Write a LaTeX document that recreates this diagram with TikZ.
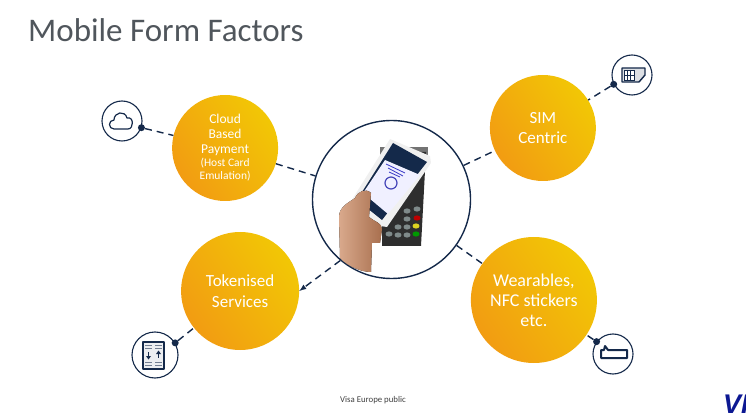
\documentclass[tikz,border=0pt]{standalone}
\usepackage{fontspec}
\setmainfont{Carlito}
\newfontfamily\logofont{Liberation Sans}
\usetikzlibrary{positioning}
\usetikzlibrary{arrows}
\definecolor{navy}{HTML}{14294A}
\definecolor{ambera}{HTML}{F29C12}
\definecolor{amberb}{HTML}{F2C705}
\definecolor{titlegrey}{HTML}{50565C}
\definecolor{skina}{HTML}{D9A98C}
\definecolor{skinb}{HTML}{A86F4E}
\definecolor{keygrey}{HTML}{7F8A8A}
\tikzset{
    blob/.style={circle,inner sep=0pt,text=white,align=center,left color=ambera,right color=amberb,shading angle=125},
    iconring/.style={circle,draw=navy,line width=1.1pt,minimum size=#1,inner sep=0pt,fill=white},
    joint/.style={circle,fill=navy,minimum size=7pt,inner sep=0pt},
    link/.style={draw=navy,line width=1.4pt,dash pattern=on 7pt off 5pt},
    glyph/.style={draw=navy,line width=1.1pt,line join=round}
}

\begin{document}
\begin{tikzpicture}[x=1pt,y=-1pt]
    \useasboundingbox (0,0) rectangle (746,419);
    \node (title) [anchor=base west,font=\fontsize{33}{33}\selectfont,text=titlegrey,inner sep=0pt] at (28,42) {Mobile Form Factors};

    % hub and the four discs
    \node (hub) [circle,draw=navy,line width=1.4pt,minimum size=158pt,inner sep=0pt] at (391.5,199.5) {};
    \node (sim)   [blob,minimum size=106pt,font=\fontsize{17}{20}\selectfont,right=18.5pt of hub,yshift=71.5pt] {SIM\\Centric};
    \node (wear)  [blob,minimum size=126pt,font=\fontsize{18}{20}\selectfont,right=-0.5pt of hub,yshift=-100.5pt] {Wearables,\\NFC stickers\\etc.};
    \node (cloud) [blob,minimum size=106pt,font=\fontsize{13.5}{15}\selectfont,left=33.5pt of hub,yshift=51.5pt] {Cloud\\Based\\Payment\\[-2pt]{\fontsize{11.5}{13}\selectfont (Host Card}\\[-2pt]{\fontsize{11.5}{13}\selectfont Emulation)}};
    \node (token) [blob,minimum size=118pt,font=\fontsize{17}{21}\selectfont,left=12.5pt of hub,yshift=-91.5pt] {Tokenised\\Services};

    % icons
    \node (cloudicon) [iconring=40pt] at (122,121) {};
    \node (simicon)   [iconring=40pt] at (632,75) {};
    \node (tokenicon) [iconring=46pt] at (155,355) {};
    \node (wearicon)  [iconring=40pt] at (613,354) {};
    \node (clouddot) [joint] at (cloudicon.-19) {};
    \node (simdot)   [joint] at (simicon.207) {};
    \node (tokendot) [joint] at (tokenicon.31) {};
    \node (weardot)  [joint] at (wearicon.143) {};

    % dashed links
    \draw[link] (clouddot) -- (cloud);
    \draw[link] (simdot) -- (sim);
    \draw[link] (tokendot) -- (token);
    \draw[link] (weardot) -- (wear);
    \draw[link] (cloud) -- (hub);
    \draw[link] (hub) -- (sim);
    \draw[link] (hub) -- (wear);
    \draw[link,-latex] (hub.230) -- (token.east);

    % cloud glyph
    \draw[glyph,line width=1.2pt] (114,129) .. controls (108,129) and (108,120) .. (114,120)
        .. controls (114,112) and (125,110) .. (127,118) .. controls (134,116) and (134,129) .. (128,129) -- cycle;

    % sim glyph
    \draw[glyph,fill=navy!15,line width=1.4pt] (622,68) -- (645,68) -- (645,75) -- (639,82) -- (622,82) -- cycle;
    \draw[navy,fill=white,line width=0.8pt] (624,70) rectangle (634,80);
    \draw[navy,line width=0.7pt] (627.5,70) -- (627.5,80) (630.5,70) -- (630.5,80) (624,75) -- (634,75);

    % card glyph
    \draw[glyph,fill=navy!8] (143,342) rectangle (164,369);
    \foreach \colx in {148.5,158.5} {
        \draw[navy!60,line width=0.8pt] (\colx-3.5,345) -- (\colx+3.5,345) (\colx-3.5,348) -- (\colx+3.5,348);
        \draw[navy!60,line width=0.8pt] (\colx-3.5,362) -- (\colx+3.5,362) (\colx-3.5,365) -- (\colx+3.5,365);
        \draw[navy,line width=1.2pt] (\colx,352) -- (\colx,358);
    }
    \fill[navy] (146,356) -- (151,356) -- (148.5,359.5) -- cycle;
    \fill[navy] (156,354) -- (161,354) -- (158.5,350.5) -- cycle;

    % band glyph
    \draw[glyph,line width=2pt,fill=white] (601,350) -- (604,350) -- (605,346) -- (608,350) -- (627,350) -- (627,358) -- (601,358) -- cycle;

    % terminal
    \fill[black!55] (380,147) -- (428,147) -- (428,160) -- (380,160) -- cycle;
    \fill[black!82] (382,152) -- (426,152) -- (421,246) -- (382,246) -- cycle;
    \foreach \kx/\ky in {407/211,417/209,407/219,398/227,407/227,389/234,398/235,407/235} {
        \fill[keygrey] (\kx,\ky) ellipse (3.5pt and 2.6pt);
    }
    \fill[red!75!black] (417,218) ellipse (3.5pt and 2.6pt);
    \fill[yellow!85!black] (416,226) ellipse (3.5pt and 2.6pt);
    \fill[green!60!black] (416,234) ellipse (3.5pt and 2.6pt);

    % phone
    \fill[black!6] (390,139) -- (430,156) -- (431,163) -- (387,227) -- (380,226) -- (352,205) -- (353,198) -- cycle;
    \fill[navy] (393,143) -- (427,162) -- (382,220) -- (357,200) -- cycle;
    \fill[white!94!blue] (385,160) -- (420,175) -- (388,214) -- (363,193) -- cycle;
    \draw[blue!45!gray,line width=1.2pt] (391,183) circle (6pt);
    \draw[blue!55!gray,line width=0.8pt] (386,164) -- (405,173) (388,168) -- (403,176) (389,172) -- (400,177);

    % hand
    \fill[left color=skina,right color=skinb] (339,217) .. controls (339,207) and (348,203) .. (355,198)
        .. controls (358,191) and (366,188) .. (371,193) -- (369,217) .. controls (375,222) and (382,223) .. (382,229)
        -- (380,243) -- (372,243) -- (371,272) .. controls (360,272) and (346,265) .. (340,258) -- cycle;

    % footer
    \node (footer) [font=\fontsize{8.8}{9}\selectfont,text=black!75,inner sep=0pt] at (373,400) {Visa Europe public};
    \begin{scope}
        \clip (720,390) rectangle (746,419);
        \node (logo) [anchor=base west,font=\logofont\bfseries\itshape\fontsize{27}{27}\selectfont,text=navy!60!blue,inner sep=0pt] at (723,413) {VISA};
    \end{scope}
\end{tikzpicture}
\end{document}
